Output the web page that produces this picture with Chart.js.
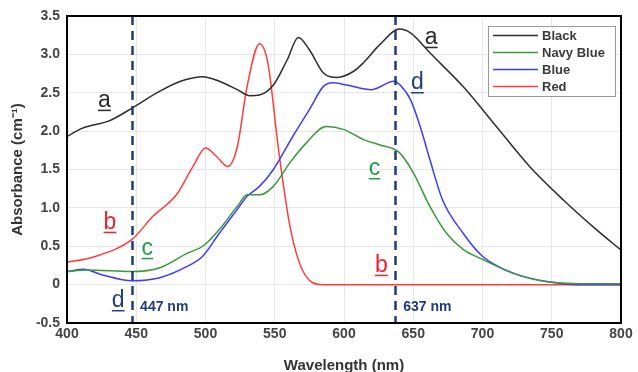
<!DOCTYPE html>
<html>
<head>
<meta charset="utf-8">
<script src="https://cdn.jsdelivr.net/npm/chart.js@4.4.1/dist/chart.umd.min.js"></script>
<style>
  html, body { margin: 0; padding: 0; background: #fff; }
  #wrap { width: 638px; height: 372px; }
</style>
</head>
<body>
<div id="wrap"><canvas id="chart" width="638" height="372"></canvas></div>
<script>
// spectra (wavelength in nm, absorbance in cm-1)
var blackWl = [400, 410, 419, 430, 447, 467, 482, 498, 510, 523, 532, 539, 549, 559, 567, 575, 585, 595, 607, 614, 626, 640, 648, 662, 686, 710, 734, 758, 782, 800];
var blackAbs = [1.93, 2.03, 2.08, 2.13, 2.30, 2.52, 2.65, 2.71, 2.65, 2.54, 2.46, 2.47, 2.60, 2.93, 3.22, 3.06, 2.76, 2.70, 2.78, 2.89, 3.13, 3.33, 3.28, 3.02, 2.58, 2.06, 1.54, 1.11, 0.72, 0.45];

var navyWl = [400, 414, 447, 467, 487, 498, 510, 523, 530, 539, 549, 561, 573, 587, 600, 614, 626, 640, 650, 662, 674, 686, 700, 722, 746, 782, 800];
var navyAbs = [0.17, 0.19, 0.17, 0.22, 0.41, 0.50, 0.72, 1.02, 1.17, 1.17, 1.28, 1.59, 1.85, 2.06, 2.02, 1.89, 1.82, 1.72, 1.46, 1.02, 0.67, 0.46, 0.33, 0.15, 0.04, 0.01, 0.01];

var blueWl = [400, 412, 425, 447, 467, 487, 498, 510, 523, 530, 539, 549, 563, 575, 585, 592, 602, 620, 636, 640, 648, 655, 662, 671, 686, 700, 722, 746, 770, 800];
var blueAbs = [0.17, 0.20, 0.13, 0.05, 0.09, 0.24, 0.37, 0.67, 0.98, 1.15, 1.28, 1.50, 1.93, 2.28, 2.58, 2.63, 2.60, 2.54, 2.65, 2.61, 2.41, 2.06, 1.63, 1.11, 0.67, 0.37, 0.15, 0.04, 0.0, 0.0];

var redWl = [400, 419, 447, 462, 479, 491, 500, 508, 516, 523, 530, 539, 545, 553, 561, 570, 584, 600, 800];
var redAbs = [0.29, 0.36, 0.59, 0.89, 1.17, 1.54, 1.78, 1.67, 1.54, 1.80, 2.58, 3.14, 2.89, 1.72, 0.76, 0.19, 0.0, 0.0, 0.0];

var xTicks = [400, 450, 500, 550, 600, 650, 700, 750, 800];
var yTicks = [-0.5, 0, 0.5, 1.0, 1.5, 2.0, 2.5, 3.0, 3.5];

// marker wavelengths and letter tags
var markWl = [447, 637];
var markText = ['447 nm', '637 nm'];
var tagText = ['a', 'a', 'b', 'b', 'c', 'c', 'd', 'd'];
var tagWl = [427, 663, 431, 627, 458, 622, 437, 653];
var tagAbs = [2.41, 3.23, 0.82, 0.26, 0.48, 1.52, -0.20, 2.64];
var tagColor = ['#2b2b2b', '#2b2b2b', '#f0202a', '#f0202a', '#1e9e46', '#1e9e46', '#22407e', '#22407e'];

var FONT = '"Liberation Sans", Arial, sans-serif';

function pts(xs, ys) {
  var out = [];
  for (var i = 0; i < xs.length; i++) out.push({ x: xs[i], y: ys[i] });
  return out;
}

function line(label, xs, ys, color) {
  return {
    label: label,
    data: pts(xs, ys),
    borderColor: color,
    backgroundColor: color,
    borderWidth: 1.5,
    pointRadius: 0,
    fill: false,
    cubicInterpolationMode: 'monotone'
  };
}

var extras = {
  id: 'extras',
  afterDatasetsDraw: function (chart) {
    var a = chart.chartArea, ctx = chart.ctx;
    var xs = chart.scales.x, ys = chart.scales.y;
    ctx.save();

    // dashed marker lines
    ctx.strokeStyle = '#1f3c78';
    ctx.lineWidth = 2.5;
    ctx.setLineDash([9, 6]);
    for (var i = 0; i < markWl.length; i++) {
      var px = Math.round(xs.getPixelForValue(markWl[i])) + 0.5;
      ctx.beginPath();
      ctx.moveTo(px, a.top);
      ctx.lineTo(px, a.bottom);
      ctx.stroke();
    }
    ctx.setLineDash([]);

    ctx.fillStyle = '#1f3c78';
    ctx.font = 'bold 14px ' + FONT;
    ctx.textBaseline = 'middle';
    ctx.textAlign = 'left';
    for (var j = 0; j < markWl.length; j++) {
      ctx.fillText(markText[j], xs.getPixelForValue(markWl[j]) + 8, ys.getPixelForValue(-0.29));
    }

    // letter tags, underlined
    ctx.font = '23px ' + FONT;
    ctx.textAlign = 'center';
    ctx.textBaseline = 'alphabetic';
    for (var k = 0; k < tagText.length; k++) {
      var tx = xs.getPixelForValue(tagWl[k]);
      var ty = ys.getPixelForValue(tagAbs[k]) + 7;
      var w = ctx.measureText(tagText[k]).width;
      ctx.fillStyle = tagColor[k];
      ctx.fillText(tagText[k], tx, ty);
      ctx.fillRect(tx - w / 2, ty + 3, w, 1.5);
    }

    // frame
    ctx.strokeStyle = '#000';
    ctx.lineWidth = 2;
    ctx.strokeRect(a.left, a.top, a.right - a.left, a.bottom - a.top);

    // legend box
    var lx = 488, ly = 26, lw = 127, lh = 70;
    ctx.fillStyle = '#fff';
    ctx.fillRect(lx, ly, lw, lh);
    ctx.strokeStyle = '#9a9a9a';
    ctx.lineWidth = 1;
    ctx.strokeRect(lx + 0.5, ly + 0.5, lw, lh);
    ctx.font = 'bold 13px ' + FONT;
    ctx.textAlign = 'left';
    ctx.textBaseline = 'middle';
    var sets = chart.data.datasets;
    for (var n = 0; n < sets.length; n++) {
      var ry = ly + 9.5 + n * 17;
      ctx.strokeStyle = sets[n].borderColor;
      ctx.lineWidth = 1.5;
      ctx.beginPath();
      ctx.moveTo(lx + 5, ry);
      ctx.lineTo(lx + 50, ry);
      ctx.stroke();
      ctx.fillStyle = '#3a3a3a';
      ctx.fillText(sets[n].label, lx + 54, ry + 1);
    }
    ctx.restore();
  }
};

var tickFont = { family: FONT, size: 14, weight: 'bold' };

new Chart(document.getElementById('chart'), {
  type: 'line',
  data: {
    datasets: [
      line('Black', blackWl, blackAbs, '#2e2e2e'),
      line('Navy Blue', navyWl, navyAbs, '#3a9a3a'),
      line('Blue', blueWl, blueAbs, '#3c3cff'),
      line('Red', redWl, redAbs, '#ff3c3c')
    ]
  },
  options: {
    responsive: false,
    animation: false,
    layout: { padding: { top: 16, right: 17, left: 0, bottom: 0 } },
    plugins: { legend: { display: false }, tooltip: { enabled: false } },
    scales: {
      x: {
        type: 'linear',
        min: 400,
        max: 800,
        afterBuildTicks: function (s) { s.ticks = xTicks.map(function (v) { return { value: v }; }); },
        afterFit: function (s) { s.height = 49; },
        grid: { color: '#e6e6e6', drawTicks: false },
        border: { display: false },
        ticks: { font: tickFont, color: '#444', padding: 3, maxRotation: 0 },
        title: { display: true, text: 'Wavelength (nm)', font: { family: FONT, size: 15, weight: 'bold' }, color: '#333', padding: { top: 0, bottom: -3 } }
      },
      y: {
        min: -0.5,
        max: 3.5,
        afterBuildTicks: function (s) { s.ticks = yTicks.map(function (v) { return { value: v }; }); },
        afterFit: function (s) { s.width = 67; },
        grid: { color: '#e6e6e6', drawTicks: false },
        border: { display: false },
        ticks: {
          font: tickFont,
          color: '#444',
          padding: 7,
          callback: function (v) { return v === 0 ? '0' : v.toFixed(1); }
        },
        title: { display: true, text: 'Absorbance (cm\u207B\u00B9)', font: { family: FONT, size: 15, weight: 'bold' }, color: '#333', padding: { top: 9, bottom: 0 } }
      }
    }
  },
  plugins: [extras]
});
</script>
</body>
</html>
